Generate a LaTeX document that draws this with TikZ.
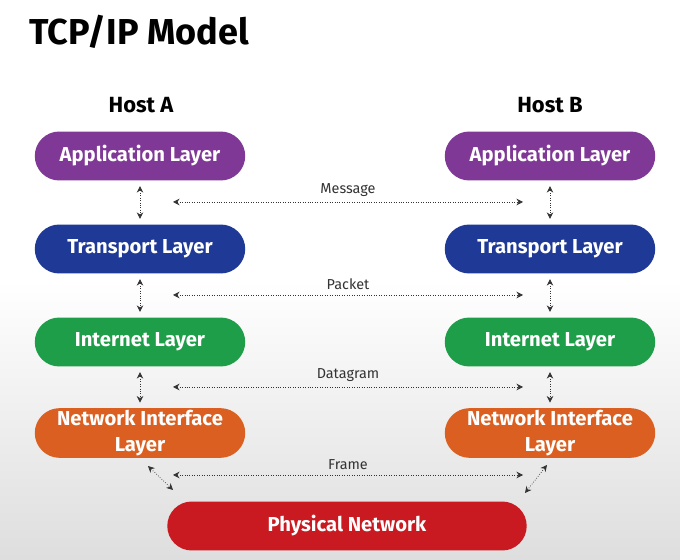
\documentclass[tikz,border=0pt]{standalone}
\usepackage{fontspec}
\setmainfont{Fira Sans}
\usepackage{tikz}
\usepackage{xcolor}
\usetikzlibrary{shapes.misc, arrows.meta, positioning, calc}
\definecolor{cApp}{RGB}{128,56,150}
\definecolor{cTrans}{RGB}{31,58,150}
\definecolor{cNet}{RGB}{30,158,72}
\definecolor{cLink}{RGB}{218,95,32}
\definecolor{cPhys}{RGB}{200,26,32}
\tikzset{
	layer/.style   ={rounded rectangle, minimum width=4.28cm, minimum height=0.98cm, text centered, align=center, text=white, font=\fontsize{11.5}{13}\selectfont\bfseries, inner sep=1pt},
	hostlbl/.style ={font=\fontsize{12.5}{14}\selectfont\bfseries},
	pdu/.style     ={font=\fontsize{8.2}{10}\selectfont, inner sep=1pt},
	link/.style    ={{Stealth[length=1.3mm,width=1.3mm]}-{Stealth[length=1.3mm,width=1.3mm]}, densely dotted, thin, black!80},
}
\begin{document}
\begin{tikzpicture}[x=0.02cm, y=-0.02cm]
	% background
	\useasboundingbox (0,0) rectangle (680,560);
	\shade[top color=white, bottom color=black!13, middle color=white] (0,0) rectangle (680,560);
	\node[anchor=west, font=\fontsize{20.5}{23}\selectfont\bfseries] (title) at (23,32) {TCP/IP Model};
	% hosts
	\node[hostlbl] (hostA) at (141,105) {Host A};
	\node[hostlbl] (hostB) at (550,105) {Host B};
	% host A stack
	\node[layer, fill=cApp]   (appA)   at (140,156) {Application Layer};
	\node[layer, fill=cTrans] (transA) at (140,249) {Transport Layer};
	\node[layer, fill=cNet]   (netA)   at (140,342) {Internet Layer};
	\node[layer, fill=cLink]  (linkA)  at (140,433) {Network Interface\\[2pt]Layer};
	% host B stack
	\node[layer, fill=cApp]   (appB)   at (550,156) {Application Layer};
	\node[layer, fill=cTrans] (transB) at (550,249) {Transport Layer};
	\node[layer, fill=cNet]   (netB)   at (550,342) {Internet Layer};
	\node[layer, fill=cLink]  (linkB)  at (550,433) {Network Interface\\[2pt]Layer};
	% shared medium
	\node[layer, fill=cPhys, minimum width=7.26cm] (phys) at (347,526) {Physical Network};
	% vertical links
	\foreach \a/\b in {appA/transA, transA/netA, netA/linkA, appB/transB, transB/netB, netB/linkB}
		\draw[link, shorten <=3pt, shorten >=3pt] (\a.south) -- (\b.north);
	% peer links
	\coordinate (msgL) at (173,202);  \coordinate (msgR) at (523,202);
	\coordinate (pktL) at (173,295);  \coordinate (pktR) at (523,295);
	\coordinate (dgL)  at (173,387);  \coordinate (dgR)  at (523,387);
	\coordinate (frL)  at (173,475);  \coordinate (frR)  at (523,475);
	\draw[link] (msgL) -- node[pdu, above=2pt] (msg) {Message} (msgR);
	\draw[link] (pktL) -- node[pdu, above=2pt] (pkt) {Packet} (pktR);
	\draw[link] (dgL) -- node[pdu, above=2pt] (dg) {Datagram} (dgR);
	\draw[link] (frL) -- node[pdu, above=2pt] (fr) {Frame} (frR);
	% to the physical network
	\coordinate (linkAout) at (148,466);  \coordinate (physL) at (173,490);
	\coordinate (linkBout) at (547,465);  \coordinate (physR) at (525,493);
	\draw[link] (linkAout) -- (physL);
	\draw[link] (linkBout) -- (physR);
\end{tikzpicture}
\end{document}
